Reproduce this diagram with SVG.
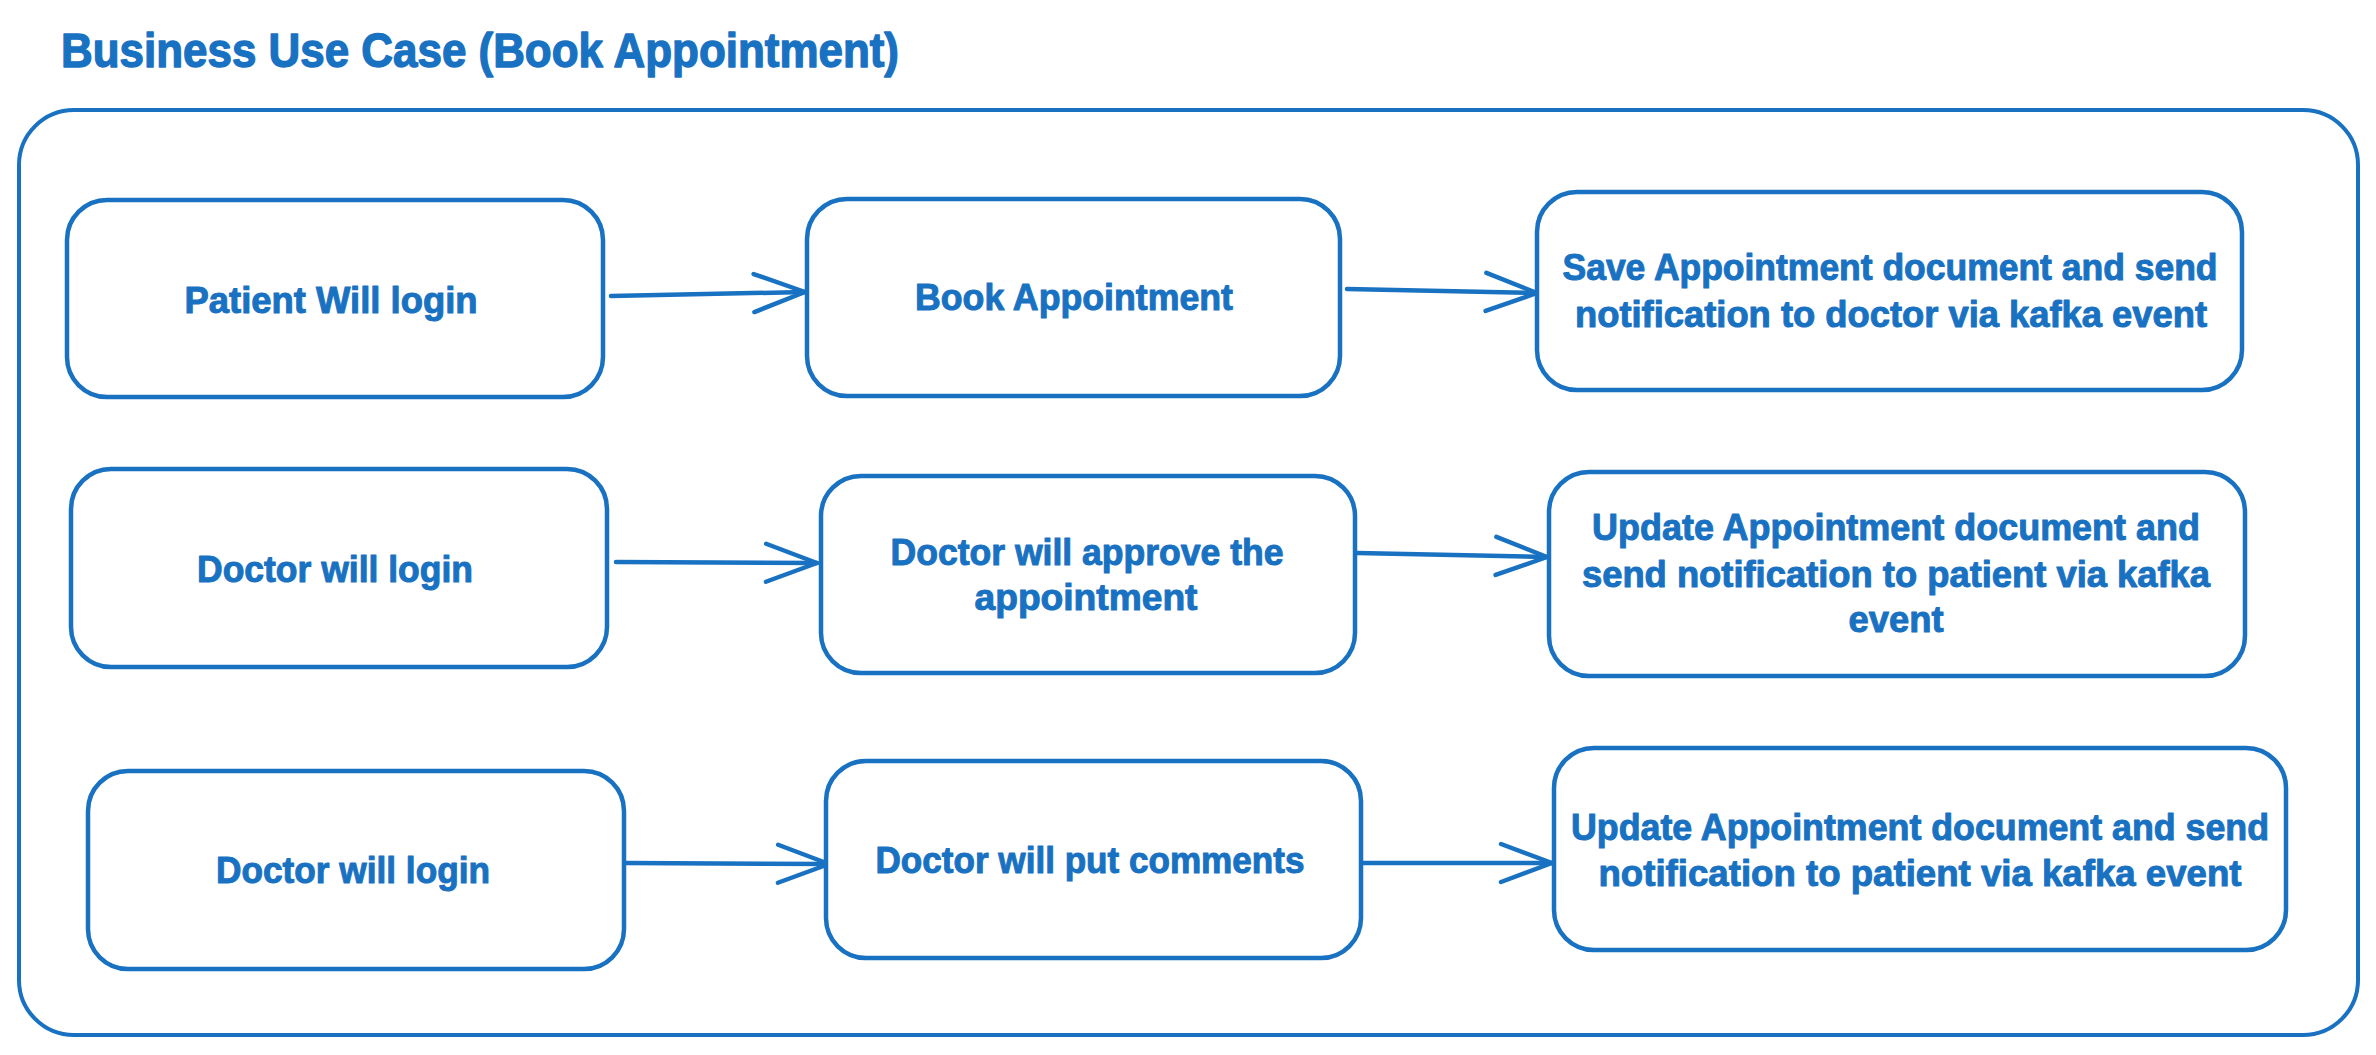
<svg xmlns="http://www.w3.org/2000/svg" width="2376" height="1055" viewBox="0 0 2376 1055">
<style>
.t{font-family:"Liberation Sans",Arial,sans-serif;font-weight:bold;fill:#1971c2;stroke:#1971c2;stroke-linejoin:round}
.lbl{font-size:37px;text-anchor:middle;stroke-width:1}
.ttl{font-size:49px;stroke-width:1.4}
.box{fill:#ffffff;stroke:#1971c2;stroke-width:4.5}
.frame{fill:#ffffff;stroke:#1971c2;stroke-width:4}
.con{fill:none;stroke:#1971c2;stroke-width:4.5;stroke-linecap:round}
</style>
<defs>
<marker id="ah" markerUnits="userSpaceOnUse" markerWidth="60" markerHeight="48" viewBox="0 0 60 48" refX="54" refY="24" orient="auto" overflow="visible">
<path d="M3,5 L54,24 L3,43" fill="none" stroke="#1971c2" stroke-width="4.5" stroke-linecap="round" stroke-linejoin="round"/>
</marker>
</defs>
<rect width="2376" height="1055" fill="#ffffff"/>
<text id="title" class="t ttl" x="61" y="67" textLength="838" lengthAdjust="spacingAndGlyphs">Business Use Case (Book Appointment)</text>
<g id="frame">
<rect class="frame" x="19" y="110" width="2339" height="925" rx="55" ry="55"/>
</g>
<g id="connectors">
<line class="con" x1="611" y1="296" x2="805" y2="292" marker-end="url(#ah)"/>
<line class="con" x1="1347" y1="289" x2="1537" y2="293" marker-end="url(#ah)"/>
<line class="con" x1="616" y1="562" x2="817" y2="563" marker-end="url(#ah)"/>
<line class="con" x1="1357" y1="553" x2="1547" y2="557" marker-end="url(#ah)"/>
<line class="con" x1="626" y1="863" x2="829" y2="864" marker-end="url(#ah)"/>
<line class="con" x1="1363" y1="863" x2="1552" y2="863" marker-end="url(#ah)"/>
</g>
<g id="patient-login">
<rect class="box" x="67" y="200" width="536" height="197" rx="40" ry="40"/>
<text class="t lbl" x="331" y="313" textLength="293" lengthAdjust="spacingAndGlyphs">Patient Will login</text>
</g>
<g id="book-appointment">
<rect class="box" x="807" y="199" width="533" height="197" rx="40" ry="40"/>
<text class="t lbl" x="1074" y="310" textLength="318" lengthAdjust="spacingAndGlyphs">Book Appointment</text>
</g>
<g id="save-appointment">
<rect class="box" x="1537" y="192" width="705" height="198" rx="40" ry="40"/>
<text class="t lbl" x="1890" y="280" textLength="655" lengthAdjust="spacingAndGlyphs">Save Appointment document and send</text>
<text class="t lbl" x="1891" y="327" textLength="632" lengthAdjust="spacingAndGlyphs">notification to doctor via kafka event</text>
</g>
<g id="doctor-login-1">
<rect class="box" x="71" y="469" width="536" height="198" rx="40" ry="40"/>
<text class="t lbl" x="335" y="582" textLength="276" lengthAdjust="spacingAndGlyphs">Doctor will login</text>
</g>
<g id="doctor-approve">
<rect class="box" x="821" y="476" width="534" height="197" rx="40" ry="40"/>
<text class="t lbl" x="1087" y="565" textLength="393" lengthAdjust="spacingAndGlyphs">Doctor will approve the</text>
<text class="t lbl" x="1086" y="610" textLength="223" lengthAdjust="spacingAndGlyphs">appointment</text>
</g>
<g id="update-appointment-1">
<rect class="box" x="1549" y="472" width="696" height="204" rx="40" ry="40"/>
<text class="t lbl" x="1896" y="540" textLength="608" lengthAdjust="spacingAndGlyphs">Update Appointment document and</text>
<text class="t lbl" x="1896" y="587" textLength="628" lengthAdjust="spacingAndGlyphs">send notification to patient via kafka</text>
<text class="t lbl" x="1896" y="632" textLength="95" lengthAdjust="spacingAndGlyphs">event</text>
</g>
<g id="doctor-login-2">
<rect class="box" x="88" y="771" width="536" height="198" rx="40" ry="40"/>
<text class="t lbl" x="353" y="883" textLength="274" lengthAdjust="spacingAndGlyphs">Doctor will login</text>
</g>
<g id="doctor-comments">
<rect class="box" x="826" y="761" width="535" height="197" rx="40" ry="40"/>
<text class="t lbl" x="1090" y="873" textLength="429" lengthAdjust="spacingAndGlyphs">Doctor will put comments</text>
</g>
<g id="update-appointment-2">
<rect class="box" x="1554" y="748" width="732" height="202" rx="40" ry="40"/>
<text class="t lbl" x="1920" y="840" textLength="698" lengthAdjust="spacingAndGlyphs">Update Appointment document and send</text>
<text class="t lbl" x="1920" y="886" textLength="643" lengthAdjust="spacingAndGlyphs">notification to patient via kafka event</text>
</g>
</svg>
